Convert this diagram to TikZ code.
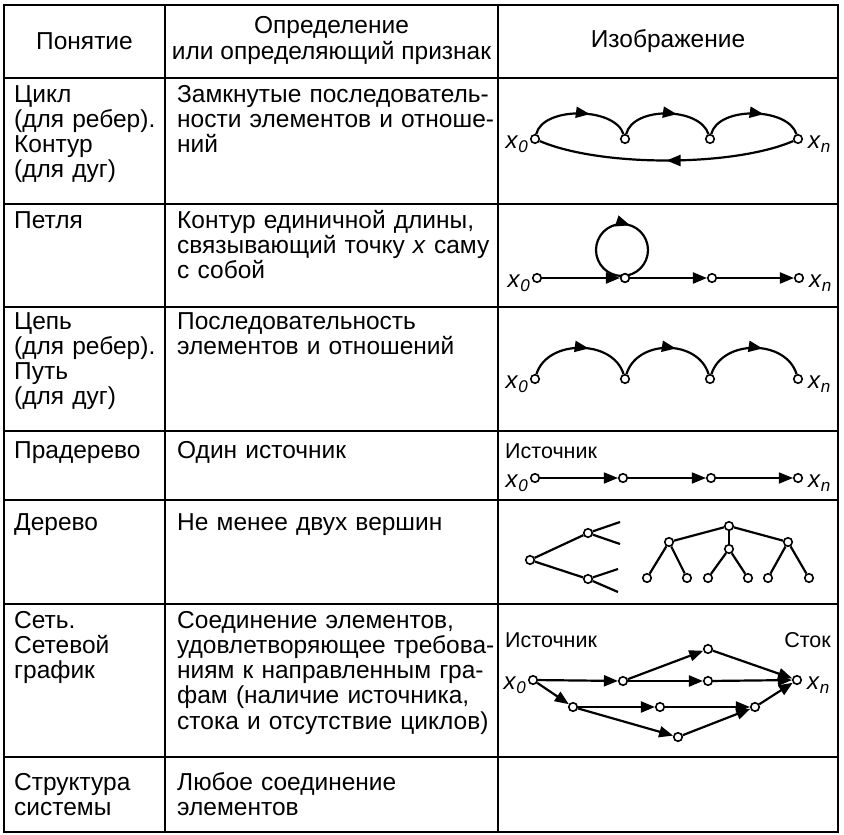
\documentclass[tikz,border=0pt]{standalone}
\usepackage{fontspec}
\setmainfont{Liberation Sans}
\usetikzlibrary{arrows.meta,decorations.markings,calc}
\newcommand{\xv}[1]{\textit{x}\raisebox{-4pt}{\fontsize{17}{17}\selectfont\textit{#1}}}
\begin{document}
\begin{tikzpicture}[x=1pt,y=-1pt,
  tl/.style={line width=1.8pt},
  cell/.style={anchor=base west, inner sep=0pt, align=left, font=\fontsize{24.5}{25.3}\selectfont},
  hd/.style={anchor=center, inner sep=0pt, align=center, font=\fontsize{24.5}{26}\selectfont},
  xl/.style={inner sep=0pt, font=\fontsize{24}{24}\selectfont},
  sm/.style={inner sep=0pt, font=\fontsize{21.5}{21.5}\selectfont},
  v/.style={circle, draw, fill=white, line width=1.6pt, inner sep=0pt, minimum size=8.5pt},
  ed/.style={line width=2.2pt},
  ar/.style={ed, -{Triangle[length=14pt,width=11pt]}},
  mid/.style={postaction={decorate,decoration={markings,mark=at position #1 with {\arrow{Triangle[length=14pt,width=11pt]}}}}}
]
\useasboundingbox (0,0) rectangle (844,835);
% table
\draw[tl] (4,5) rectangle (838,832);
\foreach \yy in {78,204,307,431,500,604,757} \draw[tl] (4,\yy) -- (838,\yy);
\draw[tl] (165,5) -- (165,832);
\draw[tl] (498,5) -- (498,832);
% header
\node[hd] (h1) at (84.5,41.5) {Понятие};
\node[hd] (h2) at (331.5,40) {Определение\\или определяющий признак};
\node[hd] (h3) at (668,41.5) {Изображение};
% column 1
\node[cell, text width=148pt] (c11) at (14,102) {Цикл\\(для ребер).\\Контур\\(для дуг)};
\node[cell, text width=148pt] (c12) at (14,228) {Петля};
\node[cell, text width=148pt] (c13) at (14,329) {Цепь\\(для ребер).\\Путь\\(для дуг)};
\node[cell, text width=148pt] (c14) at (14,458) {Прадерево};
\node[cell, text width=148pt] (c15) at (14,530) {Дерево};
\node[cell, text width=148pt] (c16) at (14,628) {Сеть.\\Сетевой\\график};
\node[cell, text width=148pt] (c17) at (14,790) {Структура\\системы};
% column 2
\node[cell, text width=318pt] (d1) at (177,102) {Замкнутые последователь-\\ности элементов и отноше-\\ний};
\node[cell, text width=318pt] (d2) at (177,228) {Контур единичной длины,\\связывающий точку \textit{x} саму\\с собой};
\node[cell, text width=318pt] (d3) at (177,329) {Последовательность\\элементов и отношений};
\node[cell, text width=318pt] (d4) at (177,458) {Один источник};
\node[cell, text width=318pt] (d5) at (177,530) {Не менее двух вершин};
\node[cell, text width=318pt] (d6) at (177,628) {Соединение элементов,\\удовлетворяющее требова-\\ниям к направленным гра-\\фам (наличие источника,\\стока и отсутствие циклов)};
\node[cell, text width=318pt] (d7) at (177,790) {Любое соединение\\элементов};
% row 1: cycle
\node[v] (a0) at (535,139) {};
\node[v] (a1) at (625,139) {};
\node[v] (a2) at (710,139) {};
\node[v] (an) at (798,139) {};
\draw[ed, mid=0.6] (a0) .. controls +(8,-33) and +(-10,-32) .. (a1);
\draw[ed, mid=0.6] (a1) .. controls +(8,-33) and +(-10,-32) .. (a2);
\draw[ed, mid=0.6] (a2) .. controls +(8,-33) and +(-10,-32) .. (an);
\draw[ed, mid=0.5] (an) .. controls +(-65,28) and +(65,28) .. (a0);
\node[xl, anchor=base east] (la0) at ($(a0)+(-7,9)$) {\xv{0}};
\node[xl, anchor=base west] (lan) at ($(an)+(10,9)$) {\xv{n}};
% row 2: loop
\node[v] (b0) at (537,278) {};
\node[v] (b1) at (625,278) {};
\node[v] (b2) at (712,278) {};
\node[v] (bn) at (799,278) {};
\draw[ar] (b0) -- (b1);
\draw[ar] (b1) -- (b2);
\draw[ar] (b2) -- (bn);
\coordinate (lc) at ($(b1)+(-3,-28)$);
\draw[ed, mid=0.8] (lc) circle[radius=26];
\node[v] at (b1) {};
\node[xl, anchor=base east] (lb0) at ($(b0)+(-7,9)$) {\xv{0}};
\node[xl, anchor=base west] (lbn) at ($(bn)+(10,9)$) {\xv{n}};
% row 3: path
\node[v] (p0) at (535,379) {};
\node[v] (p1) at (625,379) {};
\node[v] (p2) at (710,379) {};
\node[v] (pn) at (798,379) {};
\draw[ed, mid=0.58] (p0) .. controls +(12,-40) and +(-12,-40) .. (p1);
\draw[ed, mid=0.58] (p1) .. controls +(12,-40) and +(-12,-40) .. (p2);
\draw[ed, mid=0.58] (p2) .. controls +(12,-40) and +(-12,-40) .. (pn);
\node[xl, anchor=base east] (lp0) at ($(p0)+(-7,9)$) {\xv{0}};
\node[xl, anchor=base west] (lpn) at ($(pn)+(10,9)$) {\xv{n}};
% row 4: pre-tree
\node[sm, anchor=base west] (src1) at (505,458) {Источник};
\node[v] (q0) at (535,478) {};
\node[v] (q1) at (623,478) {};
\node[v] (q2) at (711,478) {};
\node[v] (qn) at (798,478) {};
\draw[ar, line width=1.6pt] (q0) -- (q1);
\draw[ar, line width=1.6pt] (q1) -- (q2);
\draw[ar, line width=1.6pt] (q2) -- (qn);
\node[xl, anchor=base east] (lq0) at ($(q0)+(-7,9)$) {\xv{0}};
\node[xl, anchor=base west] (lqn) at ($(qn)+(10,9)$) {\xv{n}};
% row 5: trees
\node[v] (r) at (530,560) {};
\node[v] (ru) at (588,533) {};
\node[v] (rl) at (588,579) {};
\coordinate (e1) at (620,522);
\coordinate (e2) at (620,544);
\coordinate (e3) at (618,569);
\coordinate (e4) at (618,592);
\draw[ed] (r) -- (ru);
\draw[ed] (r) -- (rl);
\draw[ed] (ru) -- (e1);
\draw[ed] (ru) -- (e2);
\draw[ed] (rl) -- (e3);
\draw[ed] (rl) -- (e4);
\node[v] (t) at (729,526) {};
\node[v] (tl) at (669,542) {};
\node[v] (tm) at (729,549) {};
\node[v] (tr) at (788,542) {};
\node[v] (k1) at (647,578) {};
\node[v] (k2) at (687,578) {};
\node[v] (k3) at (708,578) {};
\node[v] (k4) at (748,578) {};
\node[v] (k5) at (768,578) {};
\node[v] (k6) at (809,578) {};
\draw[ed] (t) -- (tl);
\draw[ed] (t) -- (tm);
\draw[ed] (t) -- (tr);
\draw[ed] (tl) -- (k1);
\draw[ed] (tl) -- (k2);
\draw[ed] (tm) -- (k3);
\draw[ed] (tm) -- (k4);
\draw[ed] (tr) -- (k5);
\draw[ed] (tr) -- (k6);
% row 6: network
\node[sm, anchor=base west] (src2) at (505,647) {Источник};
\node[sm, anchor=base east] (snk) at (831,647) {Сток};
\node[v] (n0) at (533,680) {};
\node[v] (nA) at (623,681) {};
\node[v] (nB) at (708,649) {};
\node[v] (nC) at (708,681) {};
\node[v] (nn) at (797,680) {};
\node[v] (nD) at (573,707) {};
\node[v] (nE) at (660,707) {};
\node[v] (nF) at (755,707) {};
\node[v] (nG) at (678,737) {};
\draw[ar] (n0) -- (nA);
\draw[ar] (nA) -- (nB);
\draw[ar] (nA) -- (nC);
\draw[ar] (nB) -- (nn);
\draw[ar] (nC) -- (nn);
\draw[ar] (n0) -- (nD);
\draw[ar] (nD) -- (nE);
\draw[ar] (nD) -- (nG);
\draw[ar] (nE) -- (nF);
\draw[ar] (nG) -- (nF);
\draw[ar] (nF) -- (nn);
\node[xl, anchor=base east] (ln0) at ($(n0)+(-7,9)$) {\xv{0}};
\node[xl, anchor=base west] (lnn) at ($(nn)+(10,9)$) {\xv{n}};
\end{tikzpicture}
\end{document}
